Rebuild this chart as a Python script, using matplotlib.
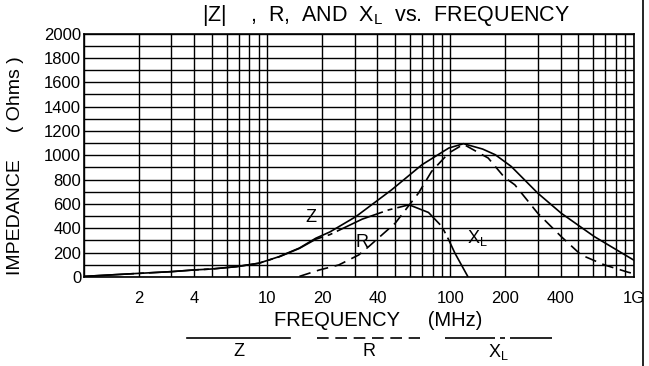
import numpy as np
import matplotlib.pyplot as plt
from matplotlib.lines import Line2D

plt.rcParams['font.family'] = ['Liberation Sans', 'DejaVu Sans']

# |Z| (solid): frequency in MHz, impedance in Ohms
Z_FREQ = [1, 2, 3, 4, 5, 6.8, 9, 11.6, 15, 18.4, 22, 30.5, 47.8, 70, 98, 118, 150, 176, 215, 300, 403, 611, 1000]
Z_VAL = [5, 30, 44, 58, 66, 85, 113, 167, 238, 318, 370, 496, 716, 922, 1059, 1095, 1051, 1004, 908, 689, 524, 332, 140]

# R (dashed)
R_FREQ = [15, 19.2, 24.6, 31.6, 35.8, 50, 67, 79, 98, 118, 161, 197, 225, 300, 403, 518, 695, 930, 1000]
R_VAL = [5, 57, 99, 181, 249, 442, 689, 867, 1018, 1090, 977, 820, 757, 524, 332, 181, 99, 40, 28]

# XL (long dash - dot)
XL_FREQ = [1, 2, 3, 4, 5, 6.8, 9, 11.6, 15, 18.4, 22, 33, 46, 59.5, 76, 90, 98, 106, 125]
XL_VAL = [5, 30, 44, 58, 66, 85, 113, 165, 235, 310, 348, 475, 551, 593, 530, 414, 305, 195, 0]

X_TICKS = [2, 4, 10, 20, 40, 100, 200, 400, 1000]
X_LABELS = ['2', '4', '10', '20', '40', '100', '200', '400', '1G']

W, H = 649, 366
fig = plt.figure(figsize=(W / 100, H / 100), dpi=100)
ax = fig.add_axes([84 / W, 89 / H, 549.5 / W, 243.5 / H])

DASH_R = (0, (7, 4))
DASH_XL = (0, (30, 3, 3, 3))

ax.plot(Z_FREQ, Z_VAL, color='black', lw=1.2)
ax.plot(R_FREQ, R_VAL, color='black', lw=1.2, linestyle=DASH_R)
ax.plot(XL_FREQ, XL_VAL, color='black', lw=1.2, linestyle=DASH_XL)

ax.set_xscale('log')
ax.set_xlim(1, 1000)
ax.set_ylim(0, 2000)

minor_x = [m * d for d in (1, 10, 100) for m in range(1, 10) if m * d not in X_TICKS]
ax.set_xticks(X_TICKS)
ax.set_xticklabels(X_LABELS)
ax.set_xticks(minor_x, minor=True)
ax.xaxis.set_minor_formatter(plt.NullFormatter())
ax.set_yticks(np.arange(0, 2001, 200))
ax.set_yticks(np.arange(100, 2000, 200), minor=True)

ax.grid(True, which='both', color='black', lw=1.0)
ax.tick_params(which='both', length=0, labelsize=12)
ax.tick_params(axis='x', pad=10)
ax.tick_params(axis='y', pad=2)
for s in ax.spines.values():
    s.set_linewidth(1.2)

# curve labels
ax.text(17.3, 485, 'Z', fontsize=13, ha='center', va='center')
ax.text(32.8, 280, 'R', fontsize=13, ha='center', va='center')
ax.text(140, 321, r'X$_\mathregular{L}$', fontsize=13, ha='center', va='center')

# titles
fig.text(386 / W, 1 - 15 / H, r'|Z|    ,  R,  AND  X$_\mathregular{L}$  vs.  FREQUENCY',
         fontsize=15.5, ha='center', va='center')
fig.text(16 / W, 1 - 166 / H, 'IMPEDANCE     ( Ohms )', fontsize=14,
         rotation=90, ha='center', va='center')
fig.text(378 / W, 1 - 320 / H, 'FREQUENCY     (MHz)', fontsize=14.5, ha='center', va='center')

# legend under the axis: line on top, name below
legend_items = [('Z', '-', 187, 290), ('R', DASH_R, 317, 420), (r'X$_\mathregular{L}$', DASH_XL, 445, 552)]
for name, style, x0, x1 in legend_items:
    fig.add_artist(Line2D([x0 / W, x1 / W], [1 - 338 / H] * 2, color='black', lw=1.2, linestyle=style))
    fig.text((x0 + x1) / 2 / W, 1 - 352 / H, name, fontsize=13, ha='center', va='center')

# frame line on the right side of the picture
fig.add_artist(Line2D([643 / W] * 2, [0, 1], color='black', lw=1.2))

fig.savefig('out.png', dpi=100)
